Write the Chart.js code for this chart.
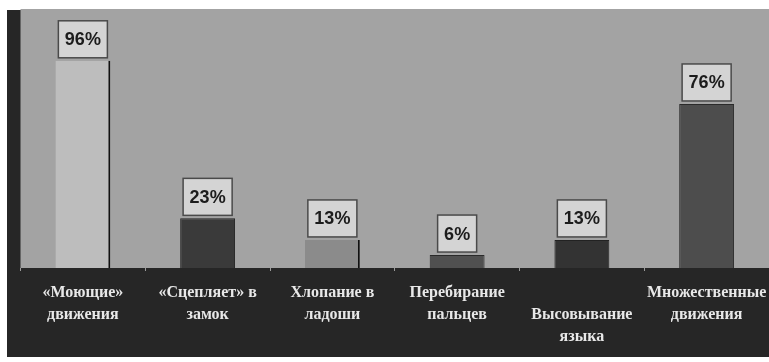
<!DOCTYPE html>
<html>
<head>
<meta charset="utf-8">
<script src="https://cdn.jsdelivr.net/npm/chart.js@4"></script>
<style>
html,body{margin:0;padding:0;background:#fff;}
#wrap{width:769px;height:362px;}
</style>
</head>
<body>
<div id="wrap"><canvas id="c" width="769" height="362"></canvas></div>
<script>
const categories = [
  ['«Моющие»', 'движения'],
  ['«Сцепляет» в', 'замок'],
  ['Хлопание в', 'ладоши'],
  ['Перебирание', 'пальцев'],
  ['', 'Высовывание', 'языка'],
  ['Множественные', 'движения']
];
const values = [96, 23, 13, 6, 13, 76];
const barColors = ['#bdbdbd', '#3a3a3a', '#8b8b8b', '#505050', '#333333', '#4d4d4d'];

const bgPlugin = {
  id: 'bg',
  beforeDraw(chart) {
    const ctx = chart.ctx, a = chart.chartArea;
    ctx.save();
    ctx.fillStyle = '#ffffff';
    ctx.fillRect(0, 0, chart.width, chart.height);
    ctx.fillStyle = '#262626';
    ctx.fillRect(7, 10, chart.width - 7, 347);
    ctx.fillStyle = '#a3a3a3';
    ctx.fillRect(a.left, a.top, chart.width - a.left, a.bottom - a.top);
    ctx.restore();
  }
};

const labelPlugin = {
  id: 'boxLabels',
  afterDatasetsDraw(chart) {
    const ctx = chart.ctx;
    const meta = chart.getDatasetMeta(0);
    ctx.save();
    ctx.font = 'bold 18px "Liberation Sans", Arial, sans-serif';
    ctx.textAlign = 'center';
    ctx.textBaseline = 'middle';
    meta.data.forEach((bar, i) => {
      const txt = values[i] + '%';
      const tw = ctx.measureText(txt).width;
      const w = tw + 13, h = 37;
      const x = bar.x - w / 2, y = bar.y - 3 - h;
      ctx.fillStyle = '#d4d4d4';
      ctx.fillRect(x, y, w, h);
      ctx.strokeStyle = '#4a4a4a';
      ctx.lineWidth = 1.5;
      ctx.strokeRect(x, y, w, h);
      ctx.fillStyle = '#1c1c1c';
      ctx.fillText(txt, bar.x, y + h / 2 + 1);
    });
    ctx.restore();
  }
};

new Chart(document.getElementById('c'), {
  type: 'bar',
  data: {
    labels: categories,
    datasets: [{
      data: values,
      backgroundColor: barColors,
      borderColor: ['#111111', '#222222', '#111111', '#2a2a2a', '#222222', '#2a2a2a'],
      borderWidth: (c) => (c.dataIndex === 0 || c.dataIndex === 2)
        ? {top: 0, left: 0, bottom: 0, right: 2}
        : {top: 1, left: 1, bottom: 0, right: 1},
      borderSkipped: false,
      barPercentage: 0.44,
      categoryPercentage: 1
    }]
  },
  options: {
    responsive: false,
    animation: false,
    layout: {padding: {left: 20.5, right: -3.5, top: 9, bottom: 0}},
    plugins: {legend: {display: false}, tooltip: {enabled: false}},
    scales: {
      y: {display: false, min: 0, max: 120},
      x: {
        offset: true,
        border: {display: false},
        grid: {display: true, drawOnChartArea: false, drawTicks: true, tickLength: 3, color: '#9a9a9a', offset: true},
        ticks: {
          color: '#e8e8e8',
          padding: 11,
          maxRotation: 0,
          autoSkip: false,
          font: {family: '"Liberation Serif", "Times New Roman", serif', size: 16, weight: 'bold', lineHeight: 1.36}
        },
        afterFit(s) { s.height = 94; s.paddingLeft = 0; s.paddingRight = 0; }
      }
    }
  },
  plugins: [bgPlugin, labelPlugin]
});
</script>
</body>
</html>
